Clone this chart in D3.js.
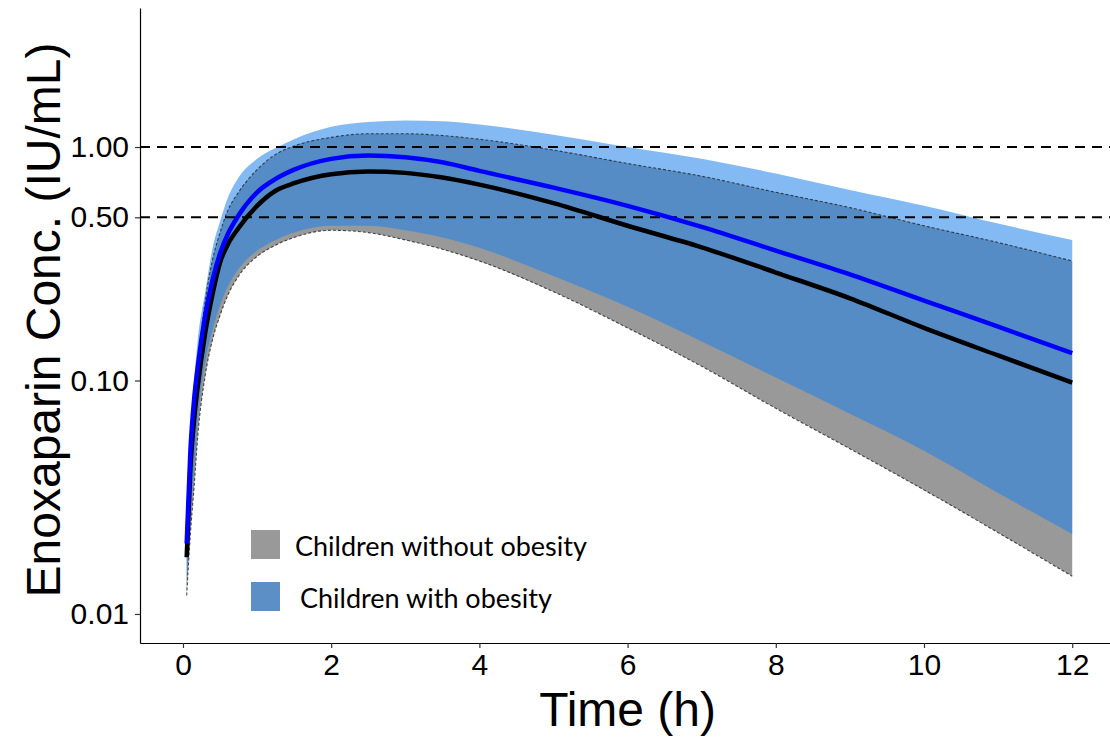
<!DOCTYPE html>
<html>
<head>
<meta charset="utf-8">
<script src="https://cdn.jsdelivr.net/npm/d3@7"></script>
<style>
  body { margin: 0; background: #fff; }
  svg { display: block; }
</style>
</head>
<body>
<svg id="chart"></svg>
<script>
// Time points (h)
const times = [0.05, 0.1, 0.15, 0.2, 0.3, 0.4, 0.5, 0.6, 0.75, 1, 1.25, 1.5, 2, 2.5, 3, 3.5, 4, 5, 6, 7, 8, 9, 10, 11, 12];

// Children without obesity (grey band + black median)
const medianNonObese = [0.0175, 0.042, 0.068, 0.095, 0.16, 0.235, 0.32, 0.38, 0.45, 0.56, 0.65, 0.70, 0.765, 0.785, 0.775, 0.74, 0.69, 0.575, 0.46, 0.372, 0.29, 0.225, 0.168, 0.128, 0.098];
const upperNonObese  = [0.019, 0.05, 0.085, 0.12, 0.22, 0.33, 0.43, 0.53, 0.64, 0.80, 0.93, 1.01, 1.10, 1.14, 1.14, 1.12, 1.08, 0.97, 0.85, 0.75, 0.64, 0.55, 0.46, 0.39, 0.325];
const lowerNonObese  = [0.012, 0.022, 0.035, 0.058, 0.105, 0.15, 0.19, 0.23, 0.28, 0.34, 0.38, 0.41, 0.44, 0.43, 0.40, 0.365, 0.325, 0.24, 0.168, 0.115, 0.076, 0.051, 0.034, 0.0223, 0.0145];

// Children with obesity (blue band + blue median)
const medianObese = [0.020, 0.05, 0.083, 0.115, 0.19, 0.27, 0.35, 0.42, 0.51, 0.64, 0.73, 0.80, 0.89, 0.92, 0.905, 0.86, 0.79, 0.67, 0.56, 0.455, 0.36, 0.285, 0.22, 0.17, 0.131];
const upperObese  = [0.022, 0.06, 0.10, 0.15, 0.24, 0.37, 0.48, 0.60, 0.74, 0.89, 0.99, 1.08, 1.22, 1.28, 1.30, 1.29, 1.25, 1.13, 1.00, 0.89, 0.77, 0.655, 0.56, 0.47, 0.40];
const lowerObese  = [0.013, 0.025, 0.042, 0.068, 0.12, 0.165, 0.21, 0.25, 0.30, 0.36, 0.40, 0.43, 0.46, 0.46, 0.44, 0.41, 0.37, 0.28, 0.207, 0.147, 0.103, 0.072, 0.05, 0.033, 0.022];

// Axis ticks and reference lines
const xTicks = [0, 2, 4, 6, 8, 10, 12];
const yTicks = [0.01, 0.10, 0.50, 1.00];
const refLines = [0.5, 1.0];
const legendLabels = ["Children without obesity", "Children with obesity"];

// SVG dimensions
const W = 1110, H = 737;
const margin = { top: 8, right: 0, bottom: 94, left: 140 };
const width = W - margin.left - margin.right;
const height = H - margin.top - margin.bottom;

const root = d3.select("#chart").attr("width", W).attr("height", H);
const svg = root.append("g").attr("transform", `translate(${margin.left},${margin.top})`);

// Scales (domains include ggplot-style expansion)
const x = d3.scaleLinear().domain([-0.58, 12.51]).range([0, width]);
const y = d3.scaleLog().domain([0.00751, 3.94]).range([height, 0]);

const rows = times.map((t, i) => ({
    t: t,
    mN: medianNonObese[i], uN: upperNonObese[i], lN: lowerNonObese[i],
    mO: medianObese[i], uO: upperObese[i], lO: lowerObese[i]
}));

const curve = d3.curveMonotoneX;
const area = (lo, hi) => d3.area().x(d => x(d.t)).y0(d => y(d[lo])).y1(d => y(d[hi])).curve(curve);
const line = key => d3.line().x(d => x(d.t)).y(d => y(d[key])).curve(curve);

// Grey band (without obesity)
svg.append("path").datum(rows)
    .attr("d", area("lN", "uN")(rows))
    .attr("fill", "#999999");

// Blue band (with obesity), semi-transparent
svg.append("path").datum(rows)
    .attr("d", area("lO", "uO")(rows))
    .attr("fill", "rgb(30,130,235)")
    .attr("fill-opacity", 0.55);

// Dashed outline of grey band
["uN", "lN"].forEach(k => {
    svg.append("path").datum(rows)
        .attr("d", line(k)(rows))
        .attr("fill", "none")
        .attr("stroke", "#222")
        .attr("stroke-opacity", 0.8)
        .attr("stroke-width", 1.1)
        .attr("stroke-dasharray", "3,2");
});

// Reference lines
svg.selectAll(".ref").data(refLines).enter().append("line")
    .attr("class", "ref")
    .attr("x1", 0).attr("x2", width)
    .attr("y1", d => y(d)).attr("y2", d => y(d))
    .attr("stroke", "#000")
    .attr("stroke-width", 2)
    .attr("stroke-dasharray", "10,7");

// Median lines
svg.append("path").datum(rows)
    .attr("d", line("mN")(rows))
    .attr("fill", "none").attr("stroke", "#000").attr("stroke-width", 4.5);
svg.append("path").datum(rows)
    .attr("d", line("mO")(rows))
    .attr("fill", "none").attr("stroke", "#0000ff").attr("stroke-width", 4.5);

// Axes
const xAxis = svg.append("g")
    .attr("transform", `translate(0,${height})`)
    .call(d3.axisBottom(x).tickValues(xTicks).tickFormat(d3.format("d")).tickSize(5).tickSizeOuter(0).tickPadding(6));
const yAxis = svg.append("g")
    .call(d3.axisLeft(y).tickValues(yTicks).tickFormat(d3.format(".2f")).tickSize(5).tickSizeOuter(0).tickPadding(6));

[xAxis, yAxis].forEach(g => {
    g.select(".domain").attr("stroke", "#000").attr("stroke-width", 1.2);
    g.selectAll(".tick line").attr("stroke", "#333").attr("stroke-width", 1.2);
    g.selectAll(".tick text")
        .attr("fill", "#000")
        .style("font-family", "'Liberation Sans', Arial, sans-serif")
        .style("font-size", "30px");
});

// Axis titles
root.append("text")
    .attr("x", margin.left + x(6))
    .attr("y", 726)
    .attr("text-anchor", "middle")
    .style("font-family", "'Liberation Sans', Arial, sans-serif")
    .style("font-size", "48px")
    .text("Time (h)");

root.append("text")
    .attr("transform", `translate(60,${320}) rotate(-90)`)
    .attr("text-anchor", "middle")
    .style("font-family", "'Liberation Sans', Arial, sans-serif")
    .style("font-size", "48px")
    .text("Enoxaparin Conc. (IU/mL)");

// Legend
const legendColors = ["#999999", "#5b8fc5"];
const legend = root.append("g");
legendLabels.forEach((lab, i) => {
    const gy = 530 + i * 52;
    legend.append("rect")
        .attr("x", 251).attr("y", gy)
        .attr("width", 29).attr("height", 29)
        .attr("fill", legendColors[i]);
    legend.append("text")
        .attr("x", i === 0 ? 295 : 300)
        .attr("y", gy + 26)
        .style("font-family", "Lato, 'Open Sans', sans-serif")
        .style("font-size", "27px")
        .attr("fill", "#000")
        .text(lab);
});
</script>
</body>
</html>
